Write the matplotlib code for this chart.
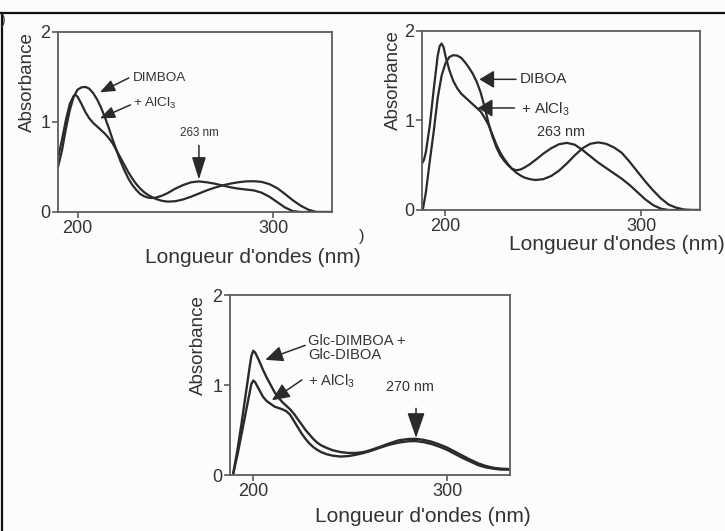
import numpy as np
import matplotlib
matplotlib.use("Agg")
import matplotlib.pyplot as plt
from matplotlib.lines import Line2D

plt.rcParams["font.family"] = ["Liberation Sans", "DejaVu Sans"]
plt.rcParams["mathtext.fontset"] = "custom"
plt.rcParams["mathtext.rm"] = "Liberation Sans"
plt.rcParams["mathtext.it"] = "Liberation Sans:italic"

# ---- Panel A : DIMBOA ----
wl_dimboa = [190, 192, 194, 196, 198, 200, 202, 204, 206, 208, 210, 212, 214, 216,
             218, 220, 222, 224, 226, 228, 230, 232, 234, 236, 238, 240, 243, 246,
             250, 254, 258, 262, 266, 270, 274, 278, 282, 286, 290, 294, 298, 302,
             306, 310, 314, 330]
abs_dimboa = [0.50, 0.68, 0.92, 1.13, 1.28, 1.36, 1.385, 1.39, 1.37, 1.32, 1.25, 1.16,
              1.05, 0.93, 0.80, 0.68, 0.56, 0.46, 0.37, 0.30, 0.245, 0.20, 0.175, 0.16,
              0.155, 0.16, 0.18, 0.21, 0.26, 0.30, 0.33, 0.34, 0.33, 0.315, 0.295,
              0.275, 0.26, 0.25, 0.24, 0.215, 0.17, 0.11, 0.05, 0.01, 0.0, 0.0]

wl_dimboa_al = [190, 192, 194, 196, 198, 199, 200, 202, 204, 206, 208, 210, 212, 214,
                216, 218, 220, 222, 224, 226, 228, 230, 232, 234, 236, 238, 240, 243,
                246, 250, 254, 258, 262, 266, 270, 274, 278, 282, 286, 290, 294, 298,
                302, 306, 310, 314, 318, 322, 330]
abs_dimboa_al = [0.60, 0.80, 1.02, 1.20, 1.29, 1.30, 1.28, 1.20, 1.11, 1.04, 0.99, 0.95,
                 0.91, 0.87, 0.82, 0.76, 0.68, 0.60, 0.52, 0.44, 0.37, 0.31, 0.26, 0.22,
                 0.19, 0.165, 0.145, 0.125, 0.115, 0.12, 0.14, 0.17, 0.205, 0.24, 0.27,
                 0.295, 0.315, 0.33, 0.34, 0.342, 0.335, 0.31, 0.265, 0.20, 0.13, 0.07,
                 0.025, 0.0, 0.0]

# ---- Panel B : DIBOA ----
wl_diboa = [188.4, 190, 192, 194, 196, 198, 200, 202, 204, 206, 208, 210, 212, 214,
            216, 218, 220, 222, 224, 226, 228, 230, 232, 234, 236, 238, 240, 243, 246,
            250, 254, 258, 262, 266, 270, 274, 278, 282, 286, 290, 294, 298, 302, 306,
            310, 314, 330]
abs_diboa = [0.0, 0.20, 0.55, 0.88, 1.25, 1.50, 1.64, 1.71, 1.73, 1.725, 1.70, 1.65,
             1.59, 1.52, 1.43, 1.31, 1.15, 0.97, 0.82, 0.70, 0.61, 0.55, 0.50, 0.46,
             0.445, 0.45, 0.47, 0.51, 0.56, 0.63, 0.69, 0.735, 0.75, 0.73, 0.67, 0.60,
             0.53, 0.47, 0.41, 0.35, 0.28, 0.20, 0.12, 0.055, 0.015, 0.0, 0.0]

wl_diboa_al = [188, 189, 190, 192, 194, 196, 197, 198, 199, 200, 202, 204, 206, 208,
               210, 212, 214, 216, 218, 220, 222, 224, 226, 228, 230, 232, 234, 236,
               238, 240, 243, 246, 250, 254, 258, 262, 266, 270, 274, 278, 282, 286,
               290, 294, 298, 302, 306, 310, 314, 318, 322, 326, 330]
abs_diboa_al = [0.52, 0.56, 0.65, 0.95, 1.35, 1.72, 1.83, 1.86, 1.82, 1.72, 1.56, 1.44,
                1.36, 1.30, 1.26, 1.22, 1.18, 1.14, 1.10, 1.03, 0.95, 0.84, 0.73, 0.64,
                0.57, 0.51, 0.46, 0.42, 0.39, 0.365, 0.345, 0.335, 0.345, 0.38, 0.44,
                0.52, 0.61, 0.69, 0.74, 0.755, 0.74, 0.70, 0.64, 0.54, 0.43, 0.32, 0.22,
                0.13, 0.06, 0.025, 0.005, 0.0, 0.0]

# ---- Panel C : glucosides ----
wl_glc = [189.7, 192, 194, 196, 198, 199, 200, 201, 203, 205, 207, 209, 211, 213, 215,
          217, 219, 221, 223, 225, 227, 229, 231, 233, 235, 238, 241, 245, 249, 253, 257,
          261, 265, 270, 275, 280, 284, 288, 292, 296, 300, 304, 308, 312, 316, 320, 324,
          328, 332.5]
abs_glc = [0.02, 0.30, 0.58, 0.88, 1.18, 1.32, 1.38, 1.36, 1.27, 1.17, 1.08, 1.00, 0.92,
           0.86, 0.81, 0.77, 0.73, 0.68, 0.62, 0.56, 0.50, 0.45, 0.40, 0.36, 0.33, 0.30,
           0.275, 0.255, 0.245, 0.245, 0.255, 0.28, 0.31, 0.35, 0.385, 0.40, 0.402, 0.39,
           0.37, 0.34, 0.305, 0.26, 0.215, 0.17, 0.13, 0.10, 0.08, 0.07, 0.065]
abs_glc_al = [0.02, 0.24, 0.46, 0.68, 0.90, 1.01, 1.05, 1.03, 0.95, 0.87, 0.82, 0.79,
              0.76, 0.745, 0.73, 0.71, 0.67, 0.60, 0.53, 0.46, 0.40, 0.35, 0.31, 0.28,
              0.255, 0.23, 0.215, 0.205, 0.21, 0.225, 0.245, 0.27, 0.30, 0.335, 0.36,
              0.375, 0.377, 0.365, 0.345, 0.315, 0.28, 0.235, 0.19, 0.15, 0.11, 0.085,
              0.07, 0.06, 0.06]

x_ticks = [200, 300]
y_ticks = [0, 1, 2]
x_label = "Longueur d'ondes (nm)"
y_label = "Absorbance"
al_label = "+ AlCl$_3$"

W, H = 725, 531
INK = "#2a2a2a"
AXC = "#5c5c5c"
TXT = "#333333"

fig = plt.figure(figsize=(W / 100, H / 100), dpi=100)
fig.patch.set_facecolor("#fcfcfc")


def px_axes(l, t, r, b):
    return fig.add_axes([l / W, 1 - b / H, (r - l) / W, (b - t) / H])


def style(ax, xlim, xlab_xy, ylab_xy):
    ax.set_facecolor("none")
    ax.set_xlim(*xlim)
    ax.set_ylim(0, 2)
    ax.set_xticks(x_ticks)
    ax.set_yticks(y_ticks)
    for s in ax.spines.values():
        s.set_color(AXC)
        s.set_linewidth(1.3)
    ax.tick_params(direction="out", length=4, width=1.2, color=AXC, pad=1.5,
                   labelsize=13, labelcolor=TXT)
    ax.set_xlabel(x_label, fontsize=15, color=TXT, va="center", ha="center")
    ax.xaxis.set_label_coords(*xlab_xy)
    ax.set_ylabel(y_label, fontsize=13.5, color=TXT, va="center", ha="center")
    ax.yaxis.set_label_coords(*ylab_xy)


def arrow(ax, tail, tip, hl=0.75, hw=0.3):
    ax.annotate("", xy=tip, xytext=tail,
                arrowprops=dict(arrowstyle=f"-|>,head_length={hl},head_width={hw}",
                                color=INK, lw=1.1, mutation_scale=12,
                                shrinkA=0, shrinkB=0))


def peak_after(wl, a, start):
    wl = np.asarray(wl)
    a = np.asarray(a)
    m = wl > start
    i = np.argmax(a[m])
    return wl[m][i], a[m][i]


# Panel A
ax1 = px_axes(58, 32, 332, 212)
ax1.plot(wl_dimboa, abs_dimboa, color=INK, lw=1.6)
ax1.plot(wl_dimboa_al, abs_dimboa_al, color=INK, lw=1.6)
style(ax1, (190, 330), (0.713, -0.255), (-0.11, 0.722))
ax1.text(228.4, 1.49, "DIMBOA", fontsize=9.7, color=TXT, va="center", ha="left")
arrow(ax1, (226.2, 1.49), (211.4, 1.33))
ax1.text(228.3, 1.21, al_label, fontsize=9.7, color=TXT, va="center", ha="left")
arrow(ax1, (227.0, 1.19), (211.4, 1.04))
px, py = peak_after(wl_dimboa, abs_dimboa, 250)
ax1.text(px, 0.88, "263 nm", fontsize=8.4, color=TXT, va="center", ha="center")
arrow(ax1, (px, 0.74), (px, py + 0.02), hl=1.15, hw=0.36)

# Panel B
ax2 = px_axes(422, 31, 700, 210)
ax2.plot(wl_diboa, abs_diboa, color=INK, lw=1.6)
ax2.plot(wl_diboa_al, abs_diboa_al, color=INK, lw=1.6)
style(ax2, (188, 330), (0.70, -0.195), (-0.103, 0.726))
ax2.text(238.0, 1.46, "DIBOA", fontsize=11, color=TXT, va="center", ha="left")
arrow(ax2, (236.0, 1.46), (217.3, 1.46), hl=0.75, hw=0.45)
ax2.text(238.6, 1.13, al_label, fontsize=11, color=TXT, va="center", ha="left")
arrow(ax2, (235.2, 1.14), (216.5, 1.14), hl=0.75, hw=0.45)
ax2.text(259.0, 0.875, "263 nm", fontsize=10.4, color=TXT, va="center", ha="center")

# Panel C
ax3 = px_axes(230, 295, 510, 475)
ax3.plot(wl_glc, abs_glc, color=INK, lw=1.7)
ax3.plot(wl_glc, abs_glc_al, color=INK, lw=1.7)
style(ax3, (188, 332.5), (0.69, -0.233), (-0.113, 0.722))
ax3.text(228.5, 1.41, "Glc-DIMBOA +\nGlc-DIBOA", fontsize=10.6, color=TXT,
         va="center", ha="left", linespacing=1.05)
arrow(ax3, (226.8, 1.44), (206.2, 1.28), hl=0.9, hw=0.4)
ax3.text(228.5, 1.04, al_label, fontsize=10.6, color=TXT, va="center", ha="left")
arrow(ax3, (225.1, 1.056), (209.6, 0.83), hl=0.9, hw=0.4)
qx, qy = peak_after(wl_glc, abs_glc, 250)
ax3.text(280.9, 0.98, "270 nm", fontsize=10.4, color=TXT, va="center", ha="center")
arrow(ax3, (qx, 0.74), (qx, qy + 0.01), hl=1.3, hw=0.45)

# Page frame and cut-off panel letters
fig.add_artist(Line2D([0, 1], [1 - 13 / H, 1 - 13 / H], transform=fig.transFigure,
                      color="#111111", lw=1.6))
fig.add_artist(Line2D([2 / W, 2 / W], [0, 1 - 13 / H], transform=fig.transFigure,
                      color="#111111", lw=1.6))
fig.text(3 / W, 1 - 20 / H, ")", fontsize=10, color=TXT, ha="center", va="center")
fig.text(362 / W, 1 - 236 / H, ")", fontsize=12, color=TXT, ha="center", va="center")

fig.savefig("out.png", dpi=100, facecolor=fig.get_facecolor())
